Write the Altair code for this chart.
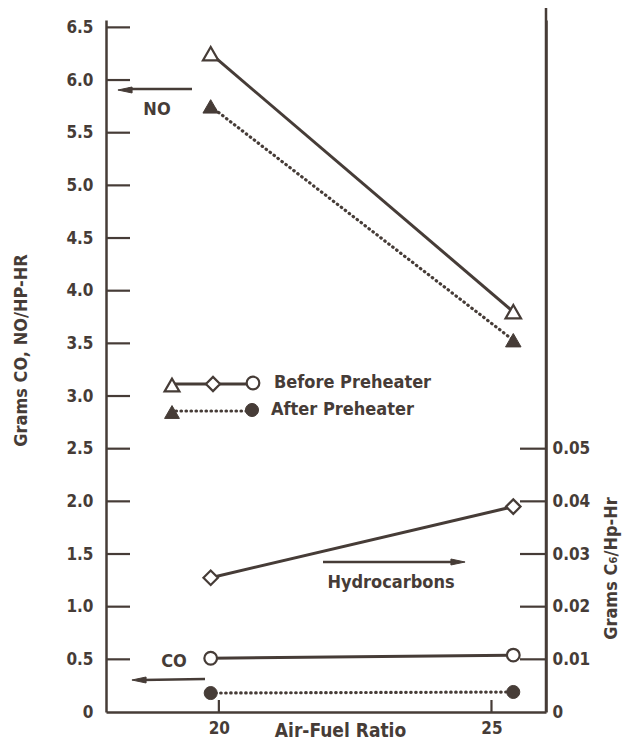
import altair as alt
import pandas as pd

# ---- data ----
ratio = [19.85, 25.4]
no_before = [6.25, 3.8]
no_after = [5.75, 3.53]
co_before = [0.51, 0.54]
co_after = [0.18, 0.19]
hc_before = [0.0255, 0.039]

left_tick_values = [0.5, 1.0, 1.5, 2.0, 2.5, 3.0, 3.5, 4.0, 4.5, 5.0, 5.5, 6.0, 6.5]
left_label_values = [0] + left_tick_values
right_tick_values = [0.01, 0.02, 0.03, 0.04, 0.05]
right_label_values = [0] + right_tick_values
x_tick_values = [20, 25]

INK = "#463c37"
FONT = "DejaVu Sans Condensed, DejaVu Sans, sans-serif"
W, H = 440, 692
Y_MAX = 6.57
HC_RATIO = 50.0

# ---- tables ----
solid_left = pd.DataFrame({
    "ratio": ratio * 2,
    "value": no_before + co_before,
    "gas": ["NO"] * 2 + ["CO"] * 2,
})
dotted_left = pd.DataFrame({
    "ratio": ratio * 2,
    "value": no_after + co_after,
    "gas": ["NO"] * 2 + ["CO"] * 2,
})
no_b = pd.DataFrame({"ratio": ratio, "value": no_before})
no_a = pd.DataFrame({"ratio": ratio, "value": no_after})
co_b = pd.DataFrame({"ratio": ratio, "value": co_before})
co_a = pd.DataFrame({"ratio": ratio, "value": co_after})
hc_b = pd.DataFrame({"ratio": ratio, "hc": hc_before})
lt = pd.DataFrame({"value": left_tick_values})
rt = pd.DataFrame({"hc": right_tick_values})
xt = pd.DataFrame({"ratio": x_tick_values})

xscale = alt.Scale(domain=[17.93, 26.0], nice=False, zero=False)
ylscale = alt.Scale(domain=[0, Y_MAX], nice=False, zero=False)
yrscale = alt.Scale(domain=[0, Y_MAX / HC_RATIO], nice=False, zero=False)

xaxis = alt.Axis(values=x_tick_values, ticks=False, tickSize=0, grid=False,
                 domainColor=INK, domainWidth=2.5, labelPadding=8,
                 title="Air-Fuel Ratio", titleX=234, titleY=24,
                 titleBaseline="alphabetic", titleFontSize=19)
ylaxis = alt.Axis(values=left_label_values, ticks=False, tickSize=0, grid=False,
                  domainColor=INK, domainWidth=2.5, labelPadding=13,
                  labelExpr="datum.value == 0 ? '0' : format(datum.value, '.1f')",
                  title="Grams CO, NO/HP-HR", titleAngle=270, titleX=-76, titleY=330,
                  titleBaseline="bottom", titleAlign="center", titleFontSize=18)
yraxis = alt.Axis(orient="right", values=right_label_values, ticks=False, tickSize=0,
                  grid=False, domainColor=INK, domainWidth=2.5, labelPadding=6,
                  labelExpr="datum.value == 0 ? '0' : format(datum.value, '.2f')",
                  title="Grams C\u2086/Hp-Hr", titleAngle=270, titleX=74, titleY=548,
                  titleBaseline="bottom", titleAlign="center", titleFontSize=18)

X = alt.X("ratio:Q", scale=xscale, axis=xaxis)
YL = alt.Y("value:Q", scale=ylscale, axis=ylaxis)
YR = alt.Y("hc:Q", scale=yrscale, axis=yraxis)

solid = alt.Chart(solid_left).mark_line(color=INK, strokeWidth=3).encode(x=X, y=YL, detail="gas:N")
dotted = alt.Chart(dotted_left).mark_line(color=INK, strokeWidth=3.2, strokeDash=[0.5, 4.5],
                                          strokeCap="round").encode(x=X, y=YL, detail="gas:N")

def hollow(shape, size):
    return dict(shape=shape, size=size, filled=True, fill="white", stroke=INK,
                strokeWidth=2.2, opacity=1)

def solidpt(shape, size):
    return dict(shape=shape, size=size, filled=True, fill=INK, stroke=INK,
                strokeWidth=1, opacity=1)

p_no_b = alt.Chart(no_b).mark_point(**hollow("triangle-up", 240)).encode(x=X, y=YL)
p_no_a = alt.Chart(no_a).mark_point(**solidpt("triangle-up", 240)).encode(x=X, y=YL)
p_co_b = alt.Chart(co_b).mark_point(**hollow("circle", 160)).encode(x=X, y=YL)
p_co_a = alt.Chart(co_a).mark_point(**solidpt("circle", 170)).encode(x=X, y=YL)

lticks = alt.Chart(lt).mark_rule(color=INK, strokeWidth=2.2).encode(
    y=YL, x=alt.value(0), x2=alt.value(24))
xticks = alt.Chart(xt).mark_rule(color=INK, strokeWidth=2.2).encode(
    x=X, y=alt.value(H - 12), y2=alt.value(H))

# annotations (pixel positions inside plot area)
def txt(label, x, y, align="center", size=18):
    return alt.Chart(pd.DataFrame({"t": [label]})).mark_text(
        font=FONT, fontSize=size, fontWeight="bold", color=INK, align=align,
        baseline="middle").encode(text="t:N", x=alt.value(x), y=alt.value(y))

def seg(x1, y1, x2, y2, width=2.5, dash=None):
    kw = dict(color=INK, strokeWidth=width)
    if dash is not None:
        kw.update(strokeDash=dash, strokeCap="round")
    return alt.Chart(pd.DataFrame({"a": [0]})).mark_rule(**kw).encode(
        x=alt.value(x1), x2=alt.value(x2), y=alt.value(y1), y2=alt.value(y2))

HEAD_L = "M -1 0 L 1 -0.42 L 1 0.42 Z"
HEAD_R = "M 1 0 L -1 -0.42 L -1 0.42 Z"

def head(path, x, y):
    return alt.Chart(pd.DataFrame({"a": [0]})).mark_point(
        shape=path, size=200, filled=True, fill=INK, stroke=INK, strokeWidth=1, opacity=1
    ).encode(x=alt.value(x), y=alt.value(y))

def mark_at(style, x, y):
    return alt.Chart(pd.DataFrame({"a": [0]})).mark_point(**style).encode(
        x=alt.value(x), y=alt.value(y))

annots = [
    seg(22, 69, 86, 69), head(HEAD_L, 19, 70), txt("NO", 51, 90),
    seg(36, 660, 99, 659), head(HEAD_L, 33, 660), txt("CO", 68, 642),
    seg(217, 542, 350, 542), head(HEAD_R, 352, 542), txt("Hydrocarbons", 285, 563),
    # legend
    seg(66, 364, 147, 364, width=3),
    mark_at(hollow("triangle-up", 220), 66, 365),
    mark_at(hollow("diamond", 200), 107, 364),
    mark_at(hollow("circle", 160), 147, 363),
    seg(70, 391, 146, 391, width=3.2, dash=[0.5, 4.5]),
    mark_at(solidpt("triangle-up", 220), 66, 392),
    mark_at(solidpt("circle", 170), 146, 390),
    txt("Before Preheater", 168, 363, align="left"),
    txt("After Preheater", 165, 390, align="left"),
]

left = alt.layer(solid, dotted, lticks, xticks, p_no_b, p_no_a, p_co_b, p_co_a, *annots)

hc_line = alt.Chart(hc_b).mark_line(color=INK, strokeWidth=3).encode(x=X, y=YR)
hc_pts = alt.Chart(hc_b).mark_point(**hollow("diamond", 210)).encode(x=X, y=YR)
rticks = alt.Chart(rt).mark_rule(color=INK, strokeWidth=2.2).encode(
    y=YR, x=alt.value(W - 26), x2=alt.value(W))
rext = alt.Chart(pd.DataFrame({"a": [0]})).mark_rule(color=INK, strokeWidth=2.5).encode(
    x=alt.value(W), y=alt.value(-15), y2=alt.value(H))

right = alt.layer(rext, rticks, hc_line, hc_pts)

chart = alt.layer(left, right).resolve_scale(y="independent").properties(
    width=W, height=H,
    autosize=alt.AutoSizeParams(type="none"),
    padding={"left": 98, "top": 12, "right": 80, "bottom": 28},
    background="white",
).configure_view(stroke=None).configure_axis(
    labelFont=FONT, labelFontSize=17, labelFontWeight="bold", labelColor=INK,
    titleFont=FONT, titleFontWeight="bold", titleColor=INK,
)

chart.save("out.html", embed_options={"renderer": "svg", "actions": False})
